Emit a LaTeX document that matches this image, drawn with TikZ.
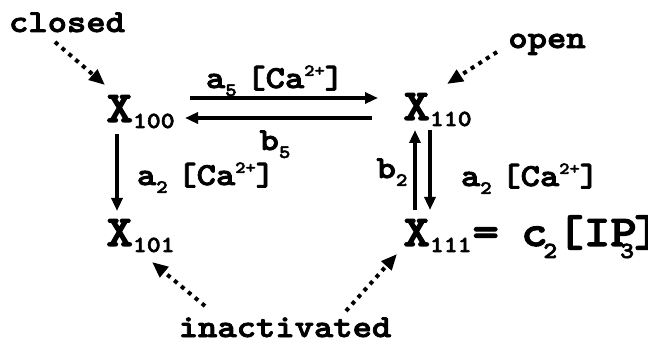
\documentclass[tikz,border=0pt]{standalone}
\usepackage{fontspec}
\newfontfamily\cour{lmmonolt10-bold.otf}[FakeBold=2.5, FakeStretch=1.15]
\usetikzlibrary{arrows.meta}

\newcommand\bigsz{\fontsize{22}{22}\selectfont}
\newcommand\labsz{\fontsize{16}{16}\selectfont}
\newcommand\xsub[1]{\raisebox{-3pt}{\fontsize{11.5}{11.5}\selectfont #1}}
\newcommand\csub[1]{\raisebox{-6pt}{\fontsize{11.5}{11.5}\selectfont #1}}
\newcommand\lsub[1]{\raisebox{-4pt}{\fontsize{9.5}{9.5}\selectfont #1}}
\newcommand\lsup[1]{\raisebox{6pt}{\fontsize{8.5}{8.5}\selectfont #1}}
\newcommand\calab[1]{a\lsub{#1}\kern0.3em[Ca\lsup{2+}]}

\tikzset{
  state/.style={inner sep=0pt, font=\cour\bigsz},
  rate/.style={inner sep=0pt, font=\cour\labsz},
  flow/.style={line width=2.1pt, -{Triangle[length=6.5pt,width=5.5pt]}},
  hint/.style={line width=2pt, dash pattern=on 2pt off 2.5pt,
    -{Triangle[length=8pt,width=6.5pt]}}
}

\begin{document}
\begin{tikzpicture}[x=0.5pt, y=-0.5pt]
  \useasboundingbox (0,0) rectangle (648,347);
  % states
  \node[state, anchor=base west] (X100) at (106,122) {X\xsub{100}};
  \node[state, anchor=base west] (X110) at (403,120) {X\xsub{110}};
  \node[state, anchor=base west] (X101) at (106,246) {X\xsub{101}};
  \node[state, anchor=base west] (X111) at (403,246) {X\xsub{111}};
  \node[state, anchor=base west] (eq) at (X111.base east)
    {=\kern-0.1em\ c\kern-0.1em\csub{2}[IP\kern-0.38em\csub{3}]};
  % tags
  \node[rate, anchor=base] (closed) at (67,32) {closed};
  \node[rate, anchor=base] (open) at (547,48) {open};
  \node[rate, anchor=base] (inact) at (285,337) {inactivated};
  % rates
  \node[rate, anchor=base] (a5) at (275,88) {\calab{5}};
  \node[rate, anchor=base] (b5) at (275,150) {b\lsub{5}};
  \node[rate, anchor=base] (a2l) at (206,185) {\calab{2}};
  \node[rate, anchor=base] (b2) at (392,178) {b\lsub{2}};
  \node[rate, anchor=base] (a2r) at (530,186) {\calab{2}};
  % transitions
  \draw[flow] ([xshift=42pt,yshift=12pt]X100.base west) -- ([xshift=-12.5pt,yshift=11pt]X110.base west);
  \draw[flow] ([xshift=-15.5pt,yshift=1pt]X110.base west) -- ([xshift=39.5pt,yshift=2pt]X100.base west);
  \draw[flow] ([xshift=5.5pt,yshift=-6pt]X100.base west) -- ([xshift=5.5pt,yshift=17.5pt]X101.base west);
  \draw[flow] ([xshift=6pt,yshift=18pt]X111.base west) -- ([xshift=6pt,yshift=-5pt]X110.base west);
  \draw[flow] ([xshift=13.5pt,yshift=-5pt]X110.base west) -- ([xshift=13.5pt,yshift=18pt]X111.base west);
  % dotted pointers
  \draw[hint] ([xshift=-6pt,yshift=-5pt]closed.base) -- ([xshift=-0.5pt,yshift=18.5pt]X100.base west);
  \draw[hint] ([xshift=-25pt,yshift=-2pt]open.base) -- ([xshift=22pt,yshift=18pt]X110.base west);
  \draw[hint] ([xshift=-40pt,yshift=15.5pt]inact.base) -- ([xshift=23pt,yshift=-8pt]X101.base west);
  \draw[hint] ([xshift=30.5pt,yshift=13pt]inact.base) -- ([xshift=-3pt,yshift=-4pt]X111.base west);
\end{tikzpicture}
\end{document}
